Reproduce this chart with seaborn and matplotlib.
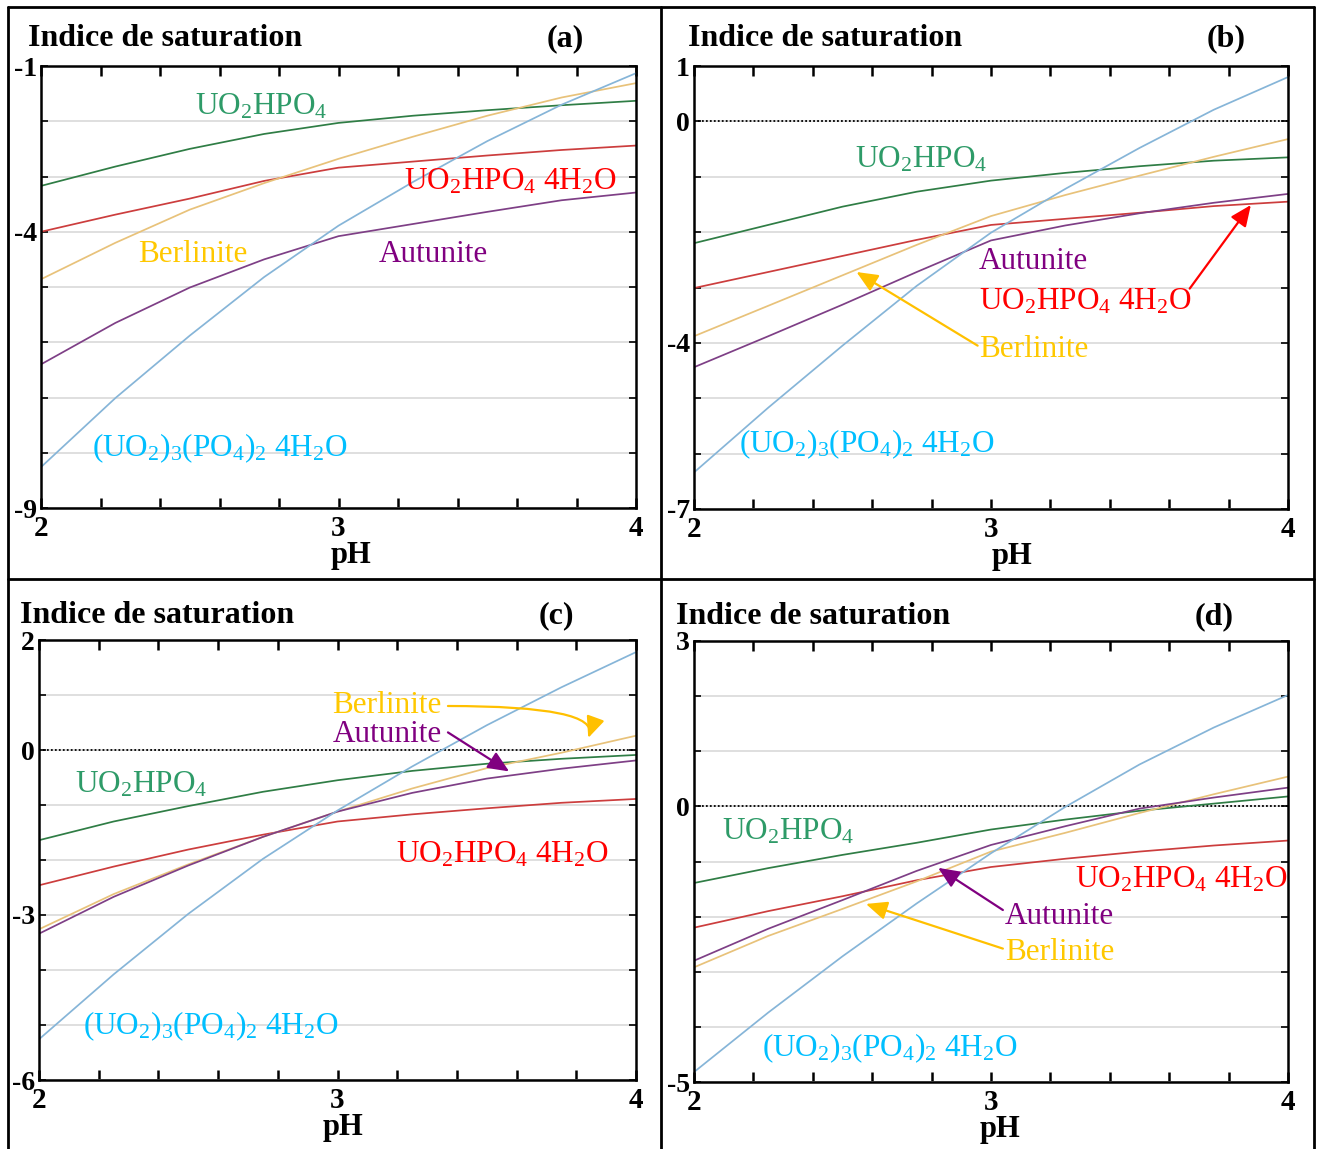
import numpy as np
import pandas as pd
import matplotlib
matplotlib.use("Agg")
import matplotlib.pyplot as plt
from matplotlib.lines import Line2D
from matplotlib.transforms import ScaledTranslation
import seaborn as sns

# pH grid shared by all panels
ph = [2.0, 2.25, 2.5, 2.75, 3.0, 3.25, 3.5, 3.75, 4.0]

minerals = ["UO2HPO4", "UO2HPO4 4H2O", "Berlinite", "Autunite", "(UO2)3(PO4)2 4H2O"]

# (a)
a_uo2hpo4 = [-3.17, -2.82, -2.50, -2.23, -2.03, -1.90, -1.80, -1.71, -1.63]
a_uo2hpo4_4h2o = [-4.00, -3.69, -3.40, -3.08, -2.84, -2.73, -2.62, -2.52, -2.44]
a_berlinite = [-4.86, -4.20, -3.60, -3.12, -2.68, -2.28, -1.90, -1.57, -1.31]
a_autunite = [-6.40, -5.65, -5.01, -4.50, -4.08, -3.86, -3.64, -3.43, -3.29]
a_uo2po4 = [-8.26, -7.01, -5.88, -4.82, -3.89, -3.10, -2.36, -1.70, -1.13]

# (b)
b_uo2hpo4 = [-2.20, -1.87, -1.54, -1.27, -1.07, -0.93, -0.81, -0.71, -0.65]
b_uo2hpo4_4h2o = [-3.01, -2.72, -2.43, -2.14, -1.87, -1.76, -1.65, -1.53, -1.45]
b_berlinite = [-3.88, -3.33, -2.78, -2.23, -1.71, -1.33, -0.98, -0.64, -0.32]
b_autunite = [-4.44, -3.88, -3.31, -2.72, -2.15, -1.88, -1.66, -1.47, -1.31]
b_uo2po4 = [-6.34, -5.17, -4.05, -2.97, -2.01, -1.22, -0.48, 0.21, 0.80]

# (c)
c_uo2hpo4 = [-1.64, -1.30, -1.02, -0.76, -0.55, -0.38, -0.25, -0.16, -0.09]
c_uo2hpo4_4h2o = [-2.46, -2.12, -1.81, -1.54, -1.30, -1.17, -1.06, -0.96, -0.89]
c_berlinite = [-3.26, -2.62, -2.08, -1.58, -1.12, -0.70, -0.33, -0.05, 0.26]
c_autunite = [-3.34, -2.67, -2.10, -1.58, -1.12, -0.78, -0.52, -0.34, -0.19]
c_uo2po4 = [-5.26, -4.08, -2.98, -1.98, -1.10, -0.30, 0.45, 1.14, 1.78]

# (d)
d_uo2hpo4 = [-1.39, -1.12, -0.88, -0.66, -0.42, -0.24, -0.08, 0.05, 0.18]
d_uo2hpo4_4h2o = [-2.20, -1.90, -1.63, -1.34, -1.10, -0.95, -0.82, -0.71, -0.62]
d_berlinite = [-2.92, -2.35, -1.86, -1.36, -0.82, -0.48, -0.12, 0.22, 0.54]
d_autunite = [-2.80, -2.22, -1.70, -1.17, -0.70, -0.36, -0.04, 0.16, 0.34]
d_uo2po4 = [-4.82, -3.74, -2.72, -1.76, -0.85, -0.01, 0.76, 1.43, 2.02]

# couleurs des courbes et des etiquettes
line_colors = {"UO2HPO4": "#2f7d45", "UO2HPO4 4H2O": "#cc3d3d", "Berlinite": "#e8c27a",
               "Autunite": "#7e3f86", "(UO2)3(PO4)2 4H2O": "#86b5d8"}
text_colors = {"UO2HPO4": "#2e9b68", "UO2HPO4 4H2O": "#ff0000", "Berlinite": "#ffc800",
               "Autunite": "#800080", "(UO2)3(PO4)2 4H2O": "#00bfff"}
math_names = {"UO2HPO4": r"UO$_2$HPO$_4$", "UO2HPO4 4H2O": r"UO$_2$HPO$_4$ 4H$_2$O",
              "Berlinite": "Berlinite", "Autunite": "Autunite",
              "(UO2)3(PO4)2 4H2O": r"(UO$_2$)$_3$(PO$_4$)$_2$ 4H$_2$O"}

panels = [
    dict(tag="(a)", series=[a_uo2hpo4, a_uo2hpo4_4h2o, a_berlinite, a_autunite, a_uo2po4],
         ylim=(-9, -1), shown=[-1, -4, -9], zero=False,
         box=(41, 66, 636, 508), title=(28, 46), letter=(565, 46), phx=0.521,
         labels={"UO2HPO4": (2.518, -1.87), "UO2HPO4 4H2O": (3.22, -3.24), "Berlinite": (2.326, -4.55),
                 "Autunite": (3.136, -4.55), "(UO2)3(PO4)2 4H2O": (2.171, -8.06)},
         arrows=[]),
    dict(tag="(b)", series=[b_uo2hpo4, b_uo2hpo4_4h2o, b_berlinite, b_autunite, b_uo2po4],
         ylim=(-7, 1), shown=[1, 0, -4, -7], zero=True,
         box=(694, 66, 1288, 509), title=(688, 46), letter=(1226, 46), phx=0.535,
         labels={"UO2HPO4": (2.542, -0.83), "UO2HPO4 4H2O": (2.96, -3.39), "Berlinite": (2.96, -4.26),
                 "Autunite": (2.96, -2.66), "(UO2)3(PO4)2 4H2O": (2.153, -5.98)},
         arrows=[("#ff0000", (3.669, -3.02), (3.875, -1.51), "arc3"),
                 ("#ffc000", (2.955, -4.05), (2.547, -2.72), "arc3")]),
    dict(tag="(c)", series=[c_uo2hpo4, c_uo2hpo4_4h2o, c_berlinite, c_autunite, c_uo2po4],
         ylim=(-6, 2), shown=[2, 0, -3, -6], zero=True,
         box=(39, 640, 636, 1080), title=(20, 623), letter=(556, 623), phx=0.509,
         labels={"UO2HPO4": (2.12, -0.77), "UO2HPO4 4H2O": (3.195, -2.04), "Berlinite": (2.983, 0.67),
                 "Autunite": (2.983, 0.15), "(UO2)3(PO4)2 4H2O": (2.147, -5.16)},
         arrows=[("#ffc000", (3.37, 0.8), (3.84, 0.22), "angle3,angleA=0,angleB=70"),
                 ("#800080", (3.37, 0.32), (3.575, -0.39), "arc3")]),
    dict(tag="(d)", series=[d_uo2hpo4, d_uo2hpo4_4h2o, d_berlinite, d_autunite, d_uo2po4],
         ylim=(-5, 3), shown=[3, 0, -5], zero=True,
         box=(694, 641, 1288, 1082), title=(676, 624), letter=(1214, 624), phx=0.515,
         labels={"UO2HPO4": (2.094, -0.6), "UO2HPO4 4H2O": (3.283, -1.48), "Berlinite": (3.047, -2.78),
                 "Autunite": (3.047, -2.14), "(UO2)3(PO4)2 4H2O": (2.229, -4.53)},
         arrows=[("#800080", (3.04, -1.88), (2.822, -1.115), "arc3"),
                 ("#ffc000", (3.04, -2.58), (2.579, -1.77), "arc3")]),
]

sns.set_theme(style="white")
plt.rcParams['font.family'] = ['Liberation Serif', 'DejaVu Serif']
plt.rcParams['mathtext.fontset'] = 'custom'
plt.rcParams['mathtext.rm'] = 'Liberation Serif'
plt.rcParams['mathtext.default'] = 'rm'
plt.rcParams['text.color'] = 'black'
plt.rcParams['xtick.color'] = 'black'
plt.rcParams['ytick.color'] = 'black'
plt.rcParams['axes.labelcolor'] = 'black'

W, H = 1321, 1149
fig = plt.figure(figsize=(W / 100, H / 100), dpi=100)
shift = ScaledTranslation(4 / 100, 0, fig.dpi_scale_trans)

for p in panels:
    l, t, r, b = p["box"]
    ax = fig.add_axes([l / W, 1 - b / H, (r - l) / W, (b - t) / H])

    df = pd.DataFrame({"pH": ph * len(minerals),
                       "SI": np.concatenate(p["series"]),
                       "mineral": np.repeat(minerals, len(ph))})
    sns.lineplot(data=df, x="pH", y="SI", hue="mineral", palette=line_colors,
                 legend=False, ax=ax, linewidth=1.25, sort=False)

    ymin, ymax = p["ylim"]
    ax.set_xlim(2, 4)
    ax.set_ylim(ymin, ymax)
    yt = list(range(ymin, ymax + 1))
    ax.set_yticks(yt)
    ax.set_yticklabels([str(v) if v in p["shown"] else "" for v in yt],
                       fontsize=20, fontweight="bold")
    xt = np.round(np.arange(2, 4.01, 0.2), 1)
    ax.set_xticks(xt)
    ax.set_xticklabels([str(int(v)) if v in (2, 3, 4) else "" for v in xt],
                       fontsize=21, fontweight="bold")
    for lbl in ax.get_xticklabels():
        lbl.set_transform(lbl.get_transform() + shift)

    ax.yaxis.grid(True, color="#dcdcdc", lw=1.3)
    ax.set_axisbelow(True)
    if p["zero"]:
        ax.axhline(0, color="black", ls=(0, (1, 1.2)), lw=1.3, zorder=1.5)

    ax.tick_params(axis="x", direction="in", top=True, bottom=True, length=7, width=1.8, pad=5)
    ax.tick_params(axis="y", direction="in", left=True, right=True, length=5, width=1.2, pad=3)
    for s in ax.spines.values():
        s.set_color("black")
        s.set_linewidth(1.8)
    ax.set_xlabel("")
    ax.set_ylabel("")

    ax.text(p["phx"], -0.125, "pH", transform=ax.transAxes, ha="center", va="baseline",
            fontsize=22, fontweight="bold")

    for m, (x, y) in p["labels"].items():
        ax.text(x, y, math_names[m], color=text_colors[m], fontsize=22.5, ha="left", va="baseline")

    for col, tail, head, cs in p["arrows"]:
        ax.annotate("", xy=head, xytext=tail,
                    arrowprops=dict(arrowstyle="-|>,head_length=0.8,head_width=0.35",
                                    mutation_scale=16, color=col, lw=1.6,
                                    shrinkA=0, shrinkB=0, connectionstyle=cs))

    fig.text(p["title"][0] / W, 1 - p["title"][1] / H, "Indice de saturation",
             fontsize=23, fontweight="bold", va="baseline", ha="left")
    fig.text(p["letter"][0] / W, 1 - p["letter"][1] / H, p["tag"],
             fontsize=23, fontweight="bold", va="baseline", ha="center")

# cadre du tableau
def seg(x0, y0, x1, y1):
    fig.add_artist(Line2D([x0 / W, x1 / W], [1 - y0 / H, 1 - y1 / H],
                          transform=fig.transFigure, color="black", lw=2))

seg(8, 7, 1314, 7)
seg(8, 7, 8, 1149)
seg(1314, 7, 1314, 1149)
seg(661, 7, 661, 1149)
seg(8, 579, 1314, 579)

fig.savefig("out.png", dpi=100, facecolor="white")
